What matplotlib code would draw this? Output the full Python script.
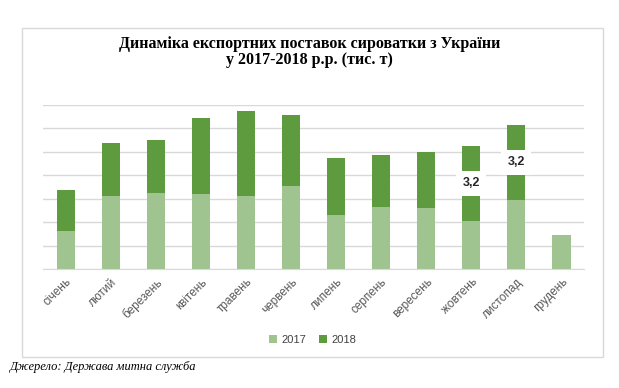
import matplotlib.pyplot as plt
from matplotlib.patches import Rectangle
import numpy as np

# Дані (тис. т)
months = ['січень', 'лютий', 'березень', 'квітень', 'травень', 'червень',
          'липень', 'серпень', 'вересень', 'жовтень', 'листопад', 'грудень']
v2017 = [1.62, 3.12, 3.25, 3.2, 3.12, 3.55, 2.31, 2.65, 2.61, 2.05, 2.95, 1.45]
v2018 = [1.76, 2.26, 2.26, 3.25, 3.63, 3.03, 2.43, 2.22, 2.39, 3.2, 3.2, 0]
labels2018 = ['', '', '', '', '', '', '', '', '', '3,2', '3,2', '']

c2017 = '#9FC48F'
c2018 = '#5E9A3E'

fig = plt.figure(figsize=(6.19, 3.88), dpi=100)
fig.patch.set_facecolor('white')

# рамка навколо діаграми
fig.patches.append(Rectangle((0.0355, 0.08), 0.9385, 0.848, transform=fig.transFigure,
                             fill=False, edgecolor='#D9D9D9', linewidth=1))

ax = fig.add_axes([0.0695, 0.3067, 0.874, 0.4227])
x = np.arange(len(months))
ax.bar(x, v2017, width=0.4, color=c2017, label='2017', zorder=2)
ax.bar(x, v2018, width=0.4, bottom=v2017, color=c2018, label='2018', zorder=2)

for i, lab in enumerate(labels2018):
    if lab:
        ax.text(x[i], v2017[i] + v2018[i] / 2, lab, ha='center', va='center',
                fontsize=9, fontweight='bold', color='#262626', zorder=3,
                family='Liberation Sans',
                bbox=dict(boxstyle='square,pad=0.5', fc='white', ec='none'))

ax.set_xlim(-0.5, 11.5)
ax.set_ylim(0, 7)
ax.set_yticks(np.arange(0, 8, 1))
ax.yaxis.grid(True, color='#D9D9D9', linewidth=1, zorder=0)
ax.tick_params(axis='y', left=False, labelleft=False)
ax.tick_params(axis='x', length=0, pad=5)
for s in ['top', 'right', 'left']:
    ax.spines[s].set_visible(False)
ax.spines['bottom'].set_color('#D9D9D9')
ax.set_xticks(x)
ax.set_xticklabels(months, rotation=45, ha='right', va='top', rotation_mode='anchor',
                   fontsize=8.5, color='#595959', family='Liberation Sans')

fig.text(0.5, 0.887, 'Динаміка експортних поставок сироватки з України',
         ha='center', va='center', fontsize=11.5, fontweight='bold',
         family='Liberation Serif', color='black')
fig.text(0.5, 0.845, 'у 2017-2018 р.р. (тис. т)',
         ha='center', va='center', fontsize=11.5, fontweight='bold',
         family='Liberation Serif', color='black')

leg = fig.legend(loc='center', bbox_to_anchor=(0.505, 0.124), ncol=2, frameon=False,
                 handlelength=0.7, handleheight=0.7, handletextpad=0.4,
                 columnspacing=1.2, prop={'family': 'Liberation Sans', 'size': 8})
for t in leg.get_texts():
    t.set_color('#404040')

fig.text(0.016, 0.054, 'Джерело: Держава митна служба', ha='left', va='center',
         fontsize=9, style='italic', family='Liberation Serif', color='black')

fig.savefig('out.png', dpi=100)
